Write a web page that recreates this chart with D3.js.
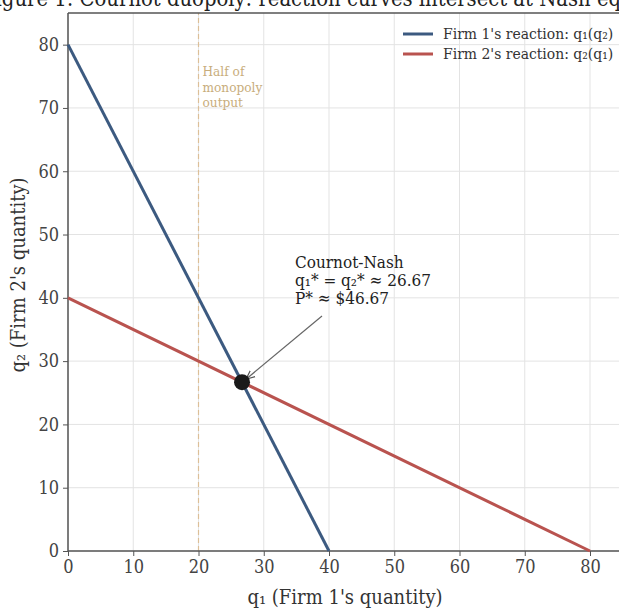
<!DOCTYPE html>
<html>
<head>
<meta charset="utf-8">
<script src="https://cdn.jsdelivr.net/npm/d3@7"></script>
<style>
  body { margin: 0; background: #fff; }
  svg { display: block; font-family: "DejaVu Serif", serif; font-stretch: condensed; }
</style>
</head>
<body>
<svg id="chart" width="619" height="609"></svg>
<script>
// reaction curves: q1 = 40 - q2/2 and q2 = 40 - q1/2
const firm1Line = [{ q1: 0, q2: 80 }, { q1: 40, q2: 0 }];
const firm2Line = [{ q1: 0, q2: 40 }, { q1: 80, q2: 0 }];
const nash = { q1: 26.67, q2: 26.67 };
const halfMonopoly = 20;
const xTicks = [0, 10, 20, 30, 40, 50, 60, 70, 80];
const yTicks = [0, 10, 20, 30, 40, 50, 60, 70, 80];
const legendItems = [
    { label: "Firm 1's reaction: q\u2081(q\u2082)", color: '#3c5a80' },
    { label: "Firm 2's reaction: q\u2082(q\u2081)", color: '#b9534f' }
];
const nashLabel = ['Cournot-Nash', 'q\u2081* = q\u2082* \u2248 26.67', 'P* \u2248 $46.67'];

const svg = d3.select('#chart');
const plotTop = 13;

const x = d3.scaleLinear().domain([0, 85]).range([68, 68 + 85 * 6.525]);
const y = d3.scaleLinear().domain([0, 85]).range([551, plotTop]);

// title (cropped like the original figure)
svg.append('text')
    .attr('x', -18)
    .attr('y', 6)
    .attr('font-size', 21.8)
    .attr('fill', '#222')
    .text('Figure 1:  Cournot duopoly: reaction curves intersect at Nash equilibrium');

// grid
const grid = svg.append('g');
grid.selectAll('.vx').data(xTicks).join('line')
    .attr('x1', d => x(d)).attr('x2', d => x(d))
    .attr('y1', y(0)).attr('y2', plotTop)
    .attr('stroke', '#e3e3e3').attr('stroke-width', 1);
grid.selectAll('.hy').data(yTicks).join('line')
    .attr('x1', x(0)).attr('x2', 619)
    .attr('y1', d => y(d)).attr('y2', d => y(d))
    .attr('stroke', '#e3e3e3').attr('stroke-width', 1);

// half of monopoly output marker
svg.append('line')
    .attr('x1', x(halfMonopoly)).attr('x2', x(halfMonopoly))
    .attr('y1', y(0)).attr('y2', plotTop)
    .attr('stroke', '#dcbf98').attr('stroke-width', 1.2)
    .attr('stroke-dasharray', '5,3');
const hm = svg.append('text')
    .attr('x', x(halfMonopoly) + 4)
    .attr('y', 76)
    .attr('font-size', 13.5)
    .attr('fill', '#c8ad7c');
['Half of', 'monopoly', 'output'].forEach((t, i) => {
    hm.append('tspan').attr('x', x(halfMonopoly) + 4).attr('dy', i === 0 ? 0 : 15.5).text(t);
});

// axes
const xAxis = svg.append('g')
    .attr('transform', `translate(0,${y(0)})`)
    .call(d3.axisBottom(x).tickValues(xTicks).tickSize(5).tickPadding(4));
const yAxis = svg.append('g')
    .attr('transform', `translate(${x(0)},0)`)
    .call(d3.axisLeft(y).tickValues(yTicks).tickSize(5).tickPadding(4));
[xAxis, yAxis].forEach(a => {
    a.selectAll('text').attr('font-size', 18).attr('fill', '#444')
        .attr('font-family', '"DejaVu Serif", serif');
    a.selectAll('line').attr('stroke', '#555');
    a.select('.domain').attr('stroke', '#555').attr('stroke-width', 1.5);
});
xAxis.select('.domain').attr('d', `M${x(0)},0H619`);
yAxis.select('.domain').attr('d', `M0,${y(0)}V${plotTop}`);

// top spine
svg.append('line')
    .attr('x1', x(0)).attr('x2', 619)
    .attr('y1', plotTop).attr('y2', plotTop)
    .attr('stroke', '#555').attr('stroke-width', 1.5);

// axis labels
svg.append('text')
    .attr('x', 345).attr('y', 604)
    .attr('text-anchor', 'middle')
    .attr('font-size', 20).attr('fill', '#333')
    .text("q\u2081  (Firm 1's quantity)");
svg.append('text')
    .attr('transform', 'translate(25,275) rotate(-90)')
    .attr('text-anchor', 'middle')
    .attr('font-size', 20).attr('fill', '#333')
    .text("q\u2082  (Firm 2's quantity)");

// reaction curves
const line = d3.line().x(d => x(d.q1)).y(d => y(d.q2));
svg.append('path').datum(firm1Line)
    .attr('d', line).attr('fill', 'none')
    .attr('stroke', legendItems[0].color).attr('stroke-width', 3);
svg.append('path').datum(firm2Line)
    .attr('d', line).attr('fill', 'none')
    .attr('stroke', legendItems[1].color).attr('stroke-width', 3);

// nash point
svg.append('defs').append('marker')
    .attr('id', 'arrow')
    .attr('viewBox', '0 0 10 10')
    .attr('refX', 9).attr('refY', 5)
    .attr('markerWidth', 8).attr('markerHeight', 8)
    .attr('orient', 'auto')
    .append('path')
    .attr('d', 'M0,1 L9,5 L0,9')
    .attr('fill', 'none').attr('stroke', '#555').attr('stroke-width', 1.2);

svg.append('line')
    .attr('x1', 322).attr('y1', 316)
    .attr('x2', x(nash.q1) + 4).attr('y2', y(nash.q2) - 3)
    .attr('stroke', '#666').attr('stroke-width', 1.2)
    .attr('marker-end', 'url(#arrow)');

svg.append('circle')
    .attr('cx', x(nash.q1)).attr('cy', y(nash.q2))
    .attr('r', 8).attr('fill', '#1a1a1a');

const nl = svg.append('text')
    .attr('x', 295).attr('y', 268)
    .attr('font-size', 17).attr('fill', '#222');
nashLabel.forEach((t, i) => {
    nl.append('tspan').attr('x', 295).attr('dy', i === 0 ? 0 : 18).text(t);
});

// legend
const legend = svg.append('g');
legendItems.forEach((d, i) => {
    const ly = 34 + i * 20;
    legend.append('line')
        .attr('x1', 403).attr('x2', 433)
        .attr('y1', ly).attr('y2', ly)
        .attr('stroke', d.color).attr('stroke-width', 3);
    legend.append('text')
        .attr('x', 443).attr('y', ly + 5)
        .attr('font-size', 15.5).attr('fill', '#333')
        .text(d.label);
});
</script>
</body>
</html>
